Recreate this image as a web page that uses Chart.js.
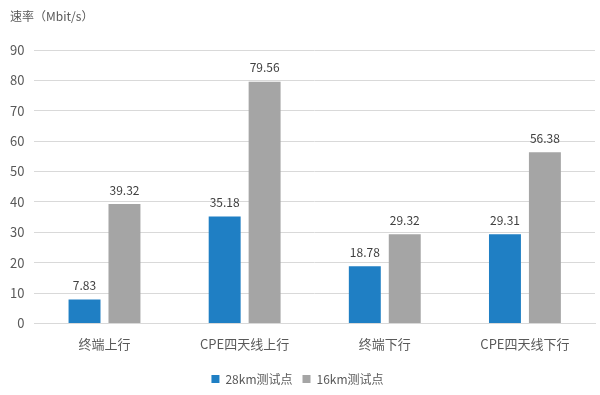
<!DOCTYPE html>
<html>
<head>
<meta charset="utf-8">
<script src="https://cdn.jsdelivr.net/npm/chart.js@4/dist/chart.umd.min.js"></script>
<style>
  html, body { margin: 0; padding: 0; background: #fff; }
  #chart-area { display: block; }
</style>
</head>
<body>
<canvas id="chart-area" width="600" height="395"></canvas>
<script>
const categories = ['终端上行', 'CPE四天线上行', '终端下行', 'CPE四天线下行'];
const seriesNames = ['28km测试点', '16km测试点'];
const site28km = [7.83, 35.18, 18.78, 29.31];
const site16km = [39.32, 79.56, 29.32, 56.38];
const yTicks = [0, 10, 20, 30, 40, 50, 60, 70, 80, 90];
const unitText = '速率（Mbit/s）';

const fontFamily = '"Noto Sans CJK SC", "Noto Sans", sans-serif';
const textColor = '#595959';

// 柱顶数值标签 + 左上角单位
const valueLabels = {
  id: 'valueLabels',
  afterDatasetsDraw(chart) {
    const ctx = chart.ctx;
    ctx.save();
    ctx.font = '12px ' + fontFamily;
    ctx.fillStyle = '#404040';
    ctx.textAlign = 'center';
    ctx.textBaseline = 'bottom';
    chart.data.datasets.forEach((ds, i) => {
      chart.getDatasetMeta(i).data.forEach((bar, j) => {
        ctx.fillText(ds.data[j].toFixed(2), bar.x, bar.y - 8);
      });
    });
    ctx.fillStyle = textColor;
    ctx.textAlign = 'left';
    ctx.textBaseline = 'middle';
    ctx.fillText(unitText, 10, 16);
    ctx.restore();
  }
};

new Chart(document.getElementById('chart-area'), {
  type: 'bar',
  data: {
    labels: categories,
    datasets: [
      {
        label: seriesNames[0],
        data: site28km,
        backgroundColor: '#1f7fc4',
        categoryPercentage: 0.57,
        barPercentage: 0.8
      },
      {
        label: seriesNames[1],
        data: site16km,
        backgroundColor: '#a5a5a5',
        categoryPercentage: 0.57,
        barPercentage: 0.8
      }
    ]
  },
  plugins: [valueLabels],
  options: {
    responsive: false,
    animation: false,
    layout: { padding: { left: 0, right: 5, top: 50, bottom: 0 } },
    plugins: {
      title: { display: false },
      legend: {
        position: 'bottom',
        labels: {
          boxWidth: 8,
          boxHeight: 8,
          color: textColor,
          font: { family: fontFamily, size: 12 },
          padding: 10
        }
      },
      tooltip: { enabled: false }
    },
    scales: {
      x: {
        grid: { display: false },
        border: { color: '#d9d9d9' },
        afterFit(axis) {
          axis.height += 6;
        },
        ticks: {
          color: textColor,
          font: { family: fontFamily, size: 13 },
          padding: 5
        }
      },
      y: {
        min: 0,
        max: 90,
        afterBuildTicks(axis) {
          axis.ticks = yTicks.map(v => ({ value: v }));
        },
        grid: { color: '#d9d9d9', drawTicks: false },
        border: { display: false },
        ticks: {
          color: textColor,
          font: { family: fontFamily, size: 13 },
          padding: 10
        }
      }
    }
  }
});
</script>
</body>
</html>
